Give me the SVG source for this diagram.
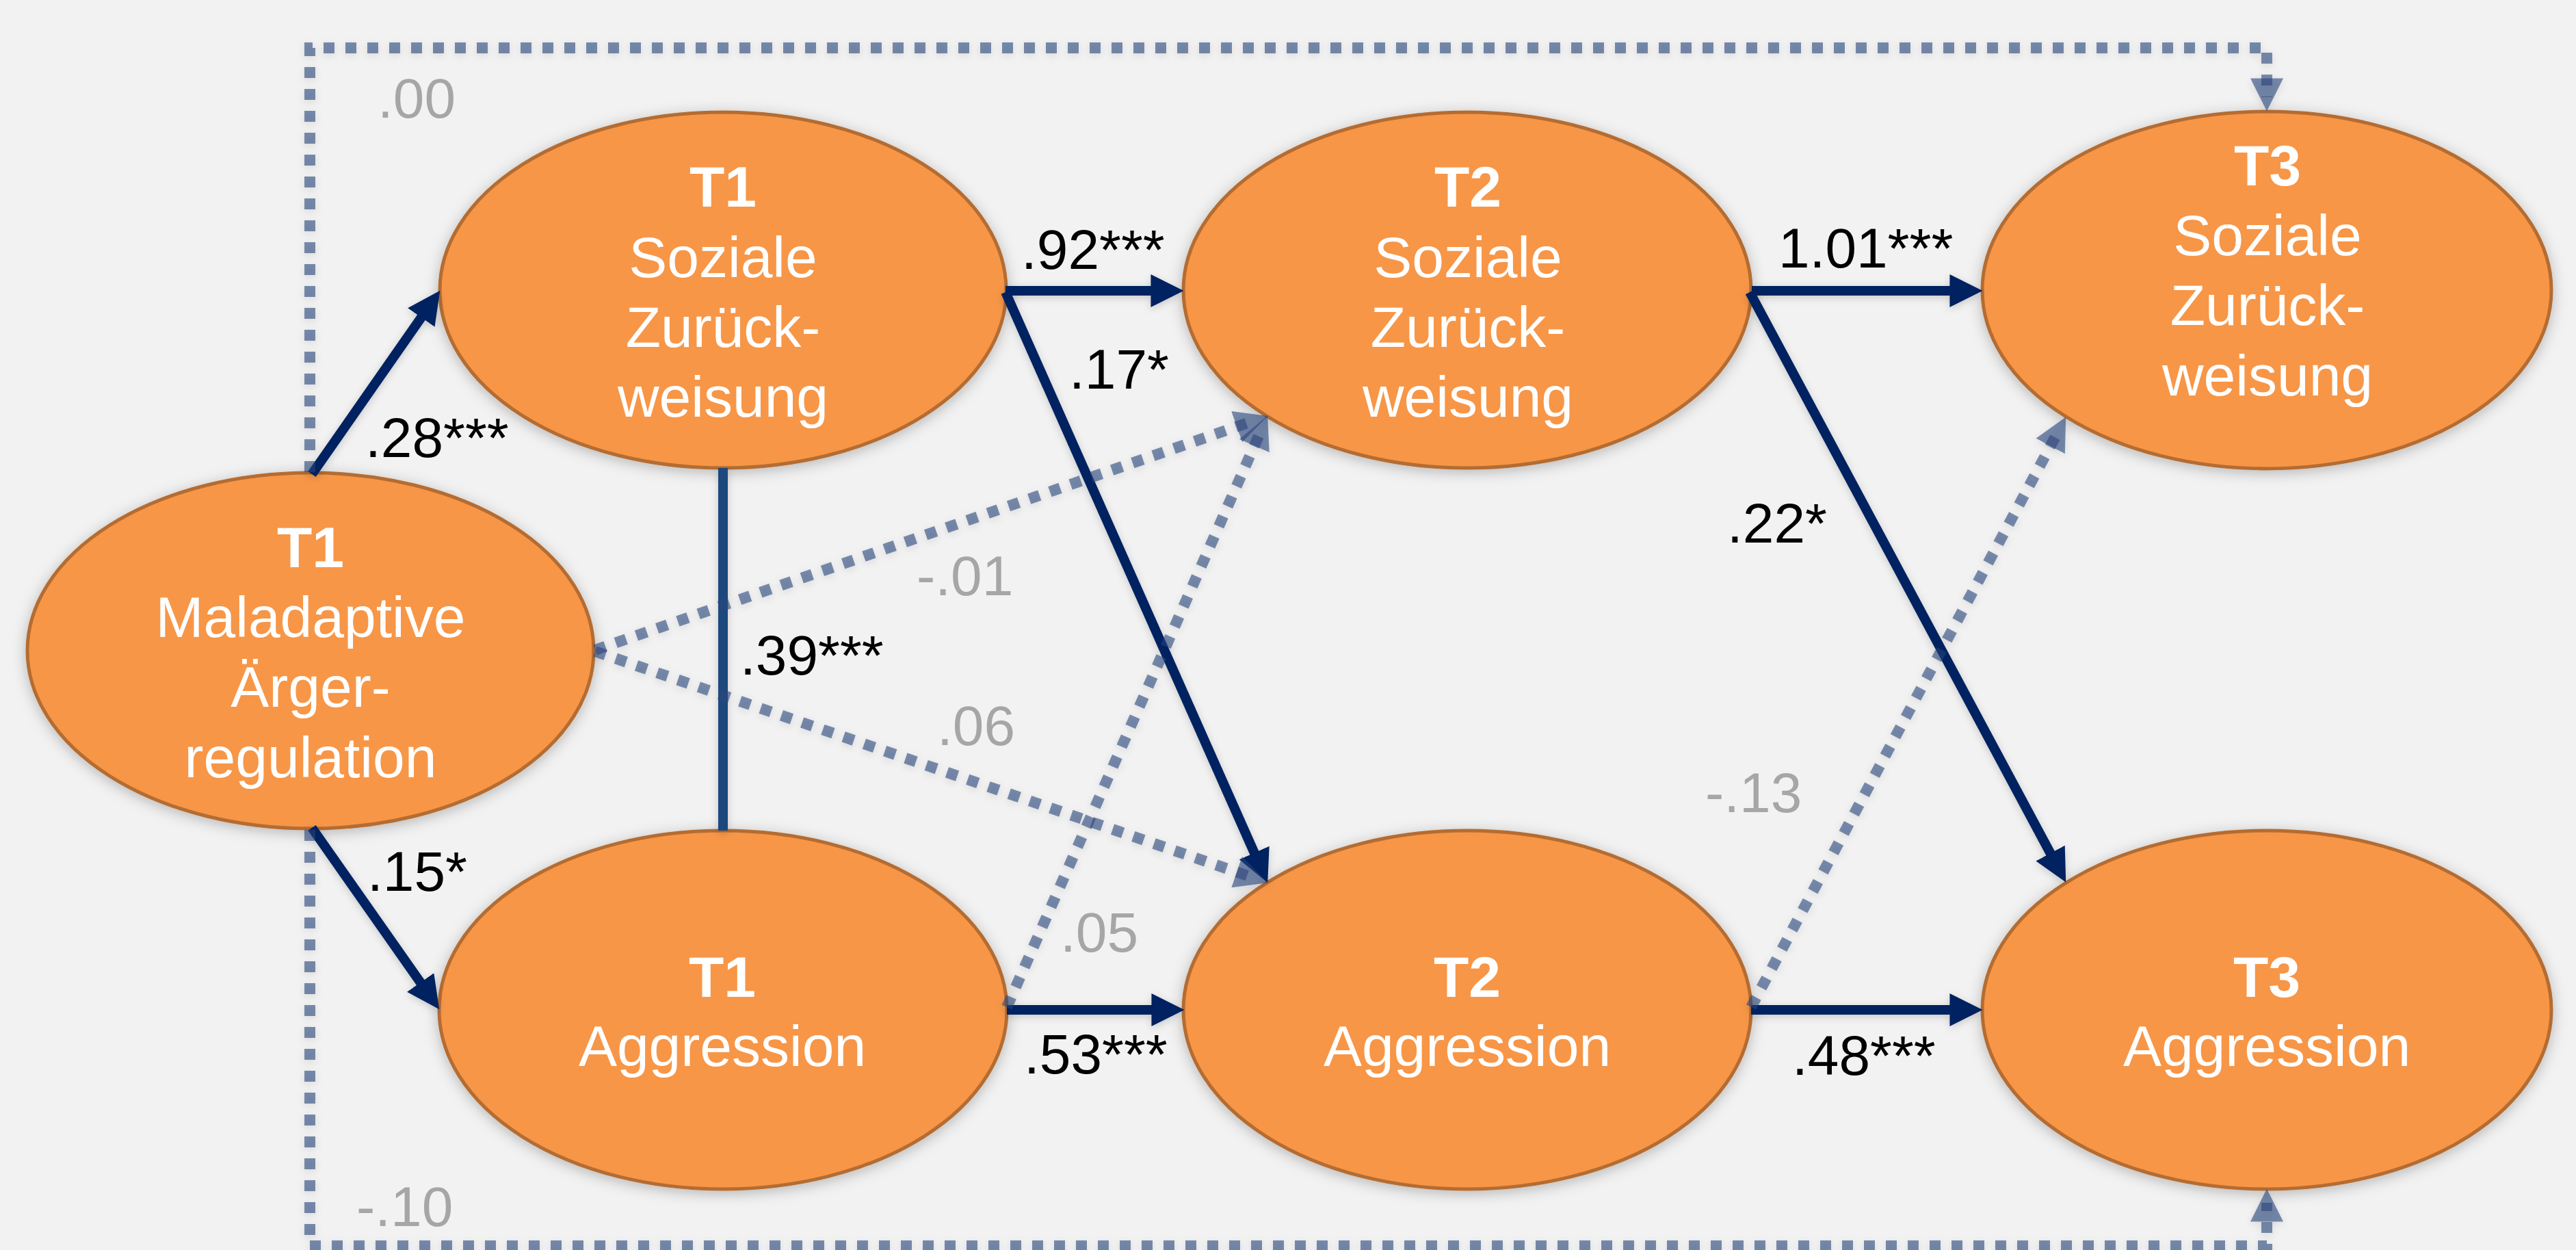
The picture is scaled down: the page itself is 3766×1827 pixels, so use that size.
<svg xmlns="http://www.w3.org/2000/svg" width="3766" height="1827" viewBox="0 0 3766 1827">
<style>
.node{fill:#F79646;stroke:#B46C30;stroke-width:5;filter:url(#sh)}
.nt{font-family:"Liberation Sans",Arial,sans-serif;font-size:84px;fill:#FFFFFF;text-anchor:middle}
.b{font-weight:bold}
.solid{fill:none;stroke:#002060;stroke-width:14;marker-end:url(#ah)}
.dot{fill:none;stroke:#2A457C;stroke-opacity:0.6;stroke-width:16;stroke-dasharray:16 16;marker-end:url(#ahd)}
.lbl{font-family:"Liberation Sans",Arial,sans-serif;font-size:82px;fill:#000000}
.gl{fill:#A6A6A6}
</style>
<defs>
<filter id="sh" x="-20%" y="-20%" width="140%" height="140%">
<feDropShadow dx="0" dy="4" stdDeviation="10" flood-color="#000000" flood-opacity="0.25"/>
</filter>
<filter id="lsh" x="-20%" y="-20%" width="140%" height="140%">
<feDropShadow dx="0" dy="3" stdDeviation="6" flood-color="#000000" flood-opacity="0.18"/>
</filter>
<marker id="ah" markerUnits="userSpaceOnUse" markerWidth="48" markerHeight="48" viewBox="0 0 47 47" refX="27" refY="23.5" orient="auto">
<path d="M0,0 L47,23.5 L0,47 z" fill="#002060"/>
</marker>
<marker id="ahd" markerUnits="userSpaceOnUse" markerWidth="48" markerHeight="48" viewBox="0 0 47 47" refX="27" refY="23.5" orient="auto">
<path d="M0,0 L47,23.5 L0,47 z" fill="#2A457C" fill-opacity="0.6"/>
</marker>
</defs>
<rect x="0" y="0" width="3766" height="1827" fill="#F2F2F2"/>

<g id="nodes">
<g id="t1-maladaptive">
<ellipse class="node" cx="454" cy="951" rx="414" ry="260"/>
<text class="nt b" x="454" y="829">T1</text>
<text class="nt" x="454" y="931">Maladaptive</text>
<text class="nt" x="454" y="1033">Ärger-</text>
<text class="nt" x="454" y="1136">regulation</text>
</g>
<g id="t1-soziale">
<ellipse class="node" cx="1057" cy="424" rx="414" ry="260"/>
<text class="nt b" x="1057" y="302">T1</text>
<text class="nt" x="1057" y="405">Soziale</text>
<text class="nt" x="1057" y="507">Zurück-</text>
<text class="nt" x="1057" y="609">weisung</text>
</g>
<g id="t2-soziale">
<ellipse class="node" cx="2145" cy="424" rx="415" ry="260"/>
<text class="nt b" x="2146" y="302">T2</text>
<text class="nt" x="2146" y="405">Soziale</text>
<text class="nt" x="2146" y="507">Zurück-</text>
<text class="nt" x="2146" y="609">weisung</text>
</g>
<g id="t3-soziale">
<ellipse class="node" cx="3314" cy="424" rx="416" ry="261"/>
<text class="nt b" x="3315" y="271">T3</text>
<text class="nt" x="3315" y="373">Soziale</text>
<text class="nt" x="3315" y="475">Zurück-</text>
<text class="nt" x="3315" y="578">weisung</text>
</g>
<g id="t1-aggression">
<ellipse class="node" cx="1057" cy="1476" rx="415" ry="262"/>
<text class="nt b" x="1056" y="1457">T1</text>
<text class="nt" x="1056" y="1558">Aggression</text>
</g>
<g id="t2-aggression">
<ellipse class="node" cx="2145" cy="1476" rx="415" ry="262"/>
<text class="nt b" x="2145" y="1457">T2</text>
<text class="nt" x="2145" y="1558">Aggression</text>
</g>
<g id="t3-aggression">
<ellipse class="node" cx="3314" cy="1476" rx="416" ry="262"/>
<text class="nt b" x="3314" y="1457">T3</text>
<text class="nt" x="3314" y="1558">Aggression</text>
</g>
</g>

<g id="connectors" filter="url(#lsh)">
<line x1="1057" y1="684" x2="1057" y2="1214" stroke="#1F497D" stroke-width="14"/>
<path class="solid" d="M456,693 L631.6,441.4"/>
<path class="solid" d="M456,1210 L630.5,1458.6"/>
<path class="solid" d="M1470,425 L1710,425"/>
<path class="solid" d="M1470,427 L1844.9,1271.7"/>
<path class="solid" d="M1472,1476 L1711,1476"/>
<path class="solid" d="M2561,425 L2878,425"/>
<path class="solid" d="M2558,427 L3010.6,1271.4"/>
<path class="solid" d="M2560,1476 L2878,1476"/>
<path class="dot" d="M870,950 L1834.1,614.6"/>
<path class="dot" d="M870,952 L1834.1,1283.5"/>
<path class="dot" d="M1472,1472 L1844.9,626.3"/>
<path class="dot" d="M2560,1472 L3010.6,627.6"/>
<path class="dot" d="M453,690 V70 H3314 V142"/>
<path class="dot" d="M453,1213 V1821 H3314 V1758"/>
</g>

<g id="labels">
<text class="lbl" x="534" y="668">.28***</text>
<text class="lbl" x="537" y="1302">.15*</text>
<text class="lbl" x="1493" y="393">.92***</text>
<text class="lbl" x="1563" y="568">.17*</text>
<text class="lbl" x="1082" y="986">.39***</text>
<text class="lbl gl" x="1340" y="870">-.01</text>
<text class="lbl gl" x="1370" y="1089">.06</text>
<text class="lbl gl" x="1550" y="1391">.05</text>
<text class="lbl" x="1497" y="1569">.53***</text>
<text class="lbl" x="2600" y="391">1.01***</text>
<text class="lbl" x="2525" y="793">.22*</text>
<text class="lbl gl" x="2493" y="1187">-.13</text>
<text class="lbl" x="2620" y="1571">.48***</text>
<text class="lbl gl" x="552" y="172">.00</text>
<text class="lbl gl" x="521" y="1792">-.10</text>
</g>
</svg>
